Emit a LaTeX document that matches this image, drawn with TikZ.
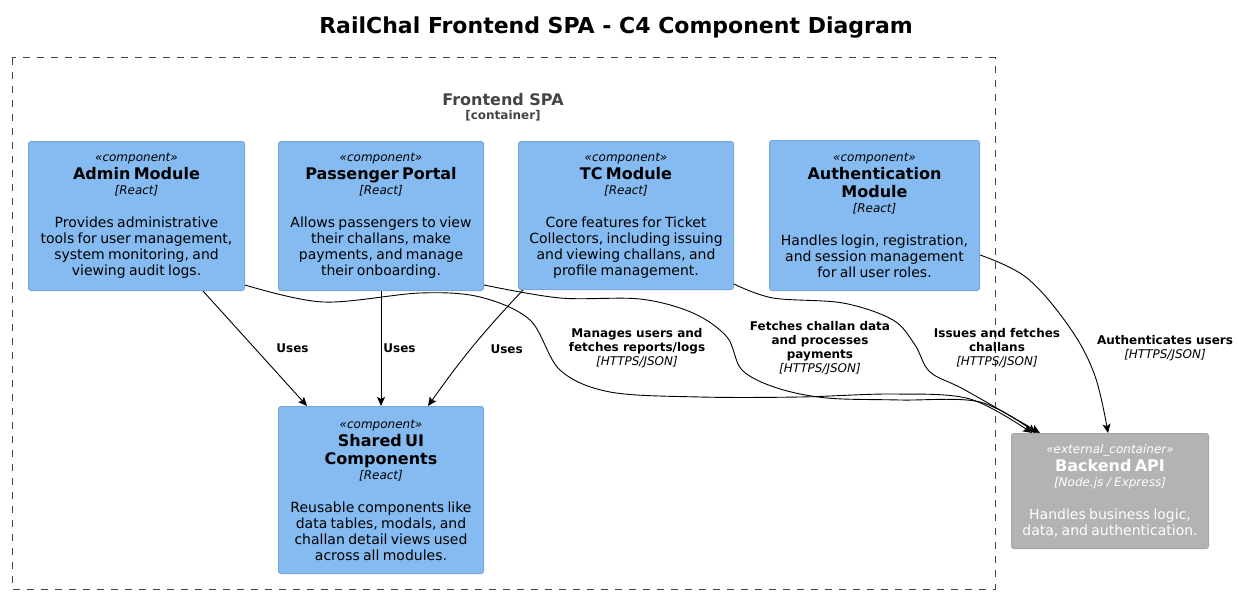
\documentclass[tikz,border=0pt]{standalone}
\usepackage{fontspec}
\setmainfont{DejaVu Sans}
\usetikzlibrary{arrows.meta}
\setlength{\parindent}{0pt}

\definecolor{compfill}{HTML}{85BBF0}
\definecolor{compline}{HTML}{78A8D8}
\definecolor{extfill}{HTML}{B3B3B3}
\definecolor{extline}{HTML}{A6A6A6}
\definecolor{bndgray}{HTML}{444444}

% stereotype, name, technology, description
\newcommand{\boxtext}[4]{%
  {\fontsize{12}{14}\selectfont\itshape «#1»\par}%
  {\fontsize{16}{18}\selectfont\bfseries #2\par}%
  {\fontsize{12}{15}\selectfont\itshape [#3]\par}%
  \vspace{17pt}%
  {\fontsize{14}{16}\selectfont #4\par}}

\tikzset{
  compbox/.style={draw=compline, fill=compfill, line width=1pt, rounded corners=2.5pt,
    align=center, inner sep=0pt, anchor=north west},
  extbox/.style={compbox, draw=extline, fill=extfill, text=white},
  rel/.style={-{Stealth[length=9pt, width=8pt, inset=2pt]}, line width=0.9pt},
  rellabel/.style={align=center, inner sep=0pt, font=\fontsize{12}{14}\selectfont\bfseries},
}

\begin{document}
\begin{tikzpicture}[x=1pt, y=-1pt]
  \useasboundingbox (0,0) rectangle (1239,594);

  % Title
  \node[font=\fontsize{22}{26}\selectfont\bfseries] (title) at (616,28) {RailChal Frontend SPA - C4 Component Diagram};

  % Boundary
  \draw[bndgray, line width=1pt, dash pattern=on 7pt off 7pt] (12,58) rectangle (995,589);
  \node[text=bndgray, font=\fontsize{16}{18}\selectfont\bfseries] (spa) at (503,100) {Frontend SPA};
  \node[text=bndgray, font=\fontsize{12}{14}\selectfont\bfseries] (spatype) at (503,116) {[container]};

  % Components
  \node[compbox, text width=207pt, minimum width=216pt, minimum height=149pt] (admin) at (28,141)
    {\boxtext{component}{Admin Module}{React}{Provides administrative\\tools for user management,\\system monitoring, and\\viewing audit logs.}};
  \node[compbox, text width=197pt, minimum width=205pt, minimum height=149pt] (passenger) at (278,141)
    {\boxtext{component}{Passenger Portal}{React}{Allows passengers to view\\their challans, make\\payments, and manage\\their onboarding.}};
  \node[compbox, text width=207pt, minimum width=215pt, minimum height=148pt] (tc) at (518,141)
    {\boxtext{component}{TC Module}{React}{Core features for Ticket\\Collectors, including issuing\\and viewing challans, and\\profile management.}};
  \node[compbox, text width=201pt, minimum width=210pt, minimum height=150pt] (auth) at (769,140)
    {\boxtext{component}{Authentication\\Module}{React}{Handles login, registration,\\and session management\\for all user roles.}};
  \node[compbox, text width=197pt, minimum width=205pt, minimum height=167pt] (shared) at (278,406)
    {\boxtext{component}{Shared UI\\Components}{React}{Reusable components like\\data tables, modals, and\\challan detail views used\\across all modules.}};

  % External container
  \node[extbox, text width=189pt, minimum width=197pt, minimum height=115pt] (backend) at (1011,433)
    {\boxtext{external\_container}{Backend API}{Node.js / Express}{Handles business logic,\\data, and authentication.}};

  % Uses
  \draw[rel] ([xshift=-42pt]admin.south east) -- ([xshift=29pt]shared.north west)
    node[rellabel, midway, right=21pt] {Uses};
  \draw[rel] (passenger.south) -- (shared.north)
    node[rellabel, midway, right=2pt] {Uses};
  \draw[rel] ([xshift=5pt]tc.south west) to[bend right=4] node[rellabel, midway, right=17pt, yshift=-3pt] {Uses}
    ([xshift=-56pt]shared.north east);

  % Calls to the backend
  \draw[rel] plot[smooth, tension=0.55] coordinates {([yshift=6pt]admin.south east) (323,302) (420,293) (480,297) (530,320) (560,370) (610,392) (700,397) (800,397) (893,394) (970,399) ([xshift=21pt]backend.north west)};
  \draw[rel] plot[smooth, tension=0.55] coordinates {([yshift=6pt]passenger.south east) (560,298) (640,299) (693,313) (727,337) (742,370) (777,388) (827,398) (900,400) (980,402) ([xshift=25pt]backend.north west)};
  \draw[rel] plot[smooth, tension=0.55] coordinates {([yshift=6pt]tc.south east) (773,298) (843,303) (893,320) (915,345) (930,372) (965,390) ([xshift=29pt]backend.north west)};
  \draw[rel] plot[smooth, tension=0.6] coordinates {([yshift=36pt]auth.south east) (1027,278) (1070,328) (1095,376) ([xshift=-2pt]backend.north)};

  % Relationship labels
  \node[rellabel] (lblmanage) at (637,348) {Manages users and\\fetches reports/logs\\{\mdseries\itshape [HTTPS/JSON]}};
  \node[rellabel] (lblfetch) at (820,348) {Fetches challan data\\and processes\\payments\\{\mdseries\itshape [HTTPS/JSON]}};
  \node[rellabel] (lblissue) at (997,348) {Issues and fetches\\challans\\{\mdseries\itshape [HTTPS/JSON]}};
  \node[rellabel] (lblauth) at (1165,348) {Authenticates users\\{\mdseries\itshape [HTTPS/JSON]}};
\end{tikzpicture}
\end{document}
